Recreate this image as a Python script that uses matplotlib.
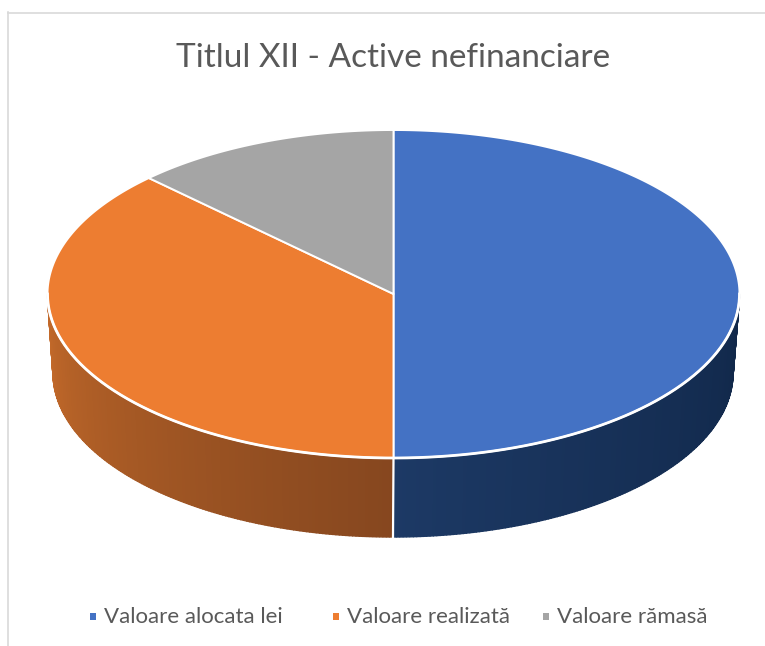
#!/usr/bin/env python3
"""3D-style pie: Titlul XII - Active nefinanciare (Excel look)."""
import numpy as np
import matplotlib
matplotlib.use("Agg")
import matplotlib.pyplot as plt
from matplotlib.patches import Polygon, Rectangle
from matplotlib.colors import to_rgb

TITLE = "Titlul XII - Active nefinanciare"
LABELS = ["Valoare alocata lei", "Valoare realizată", "Valoare rămasă"]
VALUES = [100, 75, 25]
COLORS = ["#4472c4", "#ed7d31", "#a5a5a5"]
# side wall shading (start, end) along increasing angle
SIDE = ["#1d3a66", "#c96d2b", "#7b7b7b"]
SIDE_END = ["#11284a", "#86471f", "#5a5a5a"]

TEXT = "#595959"
FONT = "Lato"

# geometry in pixel space (y grows downward)
TOP = (393.5, 294.0, 346.0, 164.0)   # cx, cy, rx, ry of top face
BOT = (393.0, 373.0, 340.0, 164.0)   # bottom rim (slight perspective)
LEGEND_X = [90, 333, 543]            # left edge of each legend square
LEGEND_Y = 623                       # text baseline


def pt(e, deg):
    cx, cy, rx, ry = e
    t = np.radians(deg)
    return cx + rx * np.cos(t), cy - ry * np.sin(t)


def arc(e, a, b, n=200):
    t = np.radians(np.linspace(a, b, n))
    cx, cy, rx, ry = e
    return np.column_stack([cx + rx * np.cos(t), cy - ry * np.sin(t)])


def mix(c1, c2, f):
    a, b = np.array(to_rgb(c1)), np.array(to_rgb(c2))
    return tuple(a + (b - a) * f)


fig = plt.figure(figsize=(7.65, 6.46), dpi=100)
ax = fig.add_axes([0, 0, 1, 1])
ax.set_xlim(0, 765)
ax.set_ylim(646, 0)
ax.axis("off")

# wedge angle ranges, starting at 12 o'clock going clockwise
fracs = np.array(VALUES, float) / sum(VALUES)
ranges = []
start = 90.0
for f in fracs:
    ranges.append((start - f * 360, start))
    start -= f * 360

# side walls (front half: 180..360 deg)
seams = []
for i, (lo, hi) in enumerate(ranges):
    for k in (-360, 0, 360):
        a, b = max(lo + k, 180), min(hi + k, 360)
        if b <= a:
            continue
        steps = np.linspace(a, b, 160)
        for j in range(len(steps) - 1):
            s0, s1 = steps[j], steps[j + 1]
            poly = np.vstack([arc(TOP, s0, s1, 3), arc(BOT, s1, s0, 3)])
            c = mix(SIDE[i], SIDE_END[i], ((j + 0.5) / (len(steps) - 1)) ** 0.8)
            ax.add_patch(Polygon(poly, closed=True, facecolor=c, edgecolor=c,
                                 lw=1.0, zorder=1))
        for s in (a, b):
            if 180 < s < 360:
                seams.append(s)

for s in set(np.round(seams, 6)):
    p0, p1 = pt(TOP, s), pt(BOT, s)
    ax.plot([p0[0], p1[0]], [p0[1], p1[1]], color="white", lw=1.6, zorder=2)

# top face
for i, (lo, hi) in enumerate(ranges):
    poly = np.vstack([[TOP[0], TOP[1]], arc(TOP, lo, hi)])
    ax.add_patch(Polygon(poly, closed=True, facecolor=COLORS[i],
                         edgecolor="white", lw=1.4, joinstyle="round", zorder=3))

front = arc(TOP, 180, 360)
ax.plot(front[:, 0], front[:, 1], color="white", lw=2.0, zorder=4)

# frame lines of the chart area
ax.plot([8, 765], [12.5, 12.5], color="#d9d9d9", lw=1.2, zorder=0)
ax.plot([8.5, 8.5], [12, 646], color="#d9d9d9", lw=1.2, zorder=0)

ax.text(393.5, 67, TITLE, ha="center", va="baseline", fontsize=24,
        color=TEXT, family=FONT)

# legend
for x, c, lab in zip(LEGEND_X, COLORS, LABELS):
    ax.add_patch(Rectangle((x, 613), 6.5, 6.5, facecolor=c, edgecolor="none"))
    ax.text(x + 14, LEGEND_Y, lab, ha="left", va="baseline", fontsize=16,
            color=TEXT, family=FONT)

fig.savefig("out.png", dpi=100)
